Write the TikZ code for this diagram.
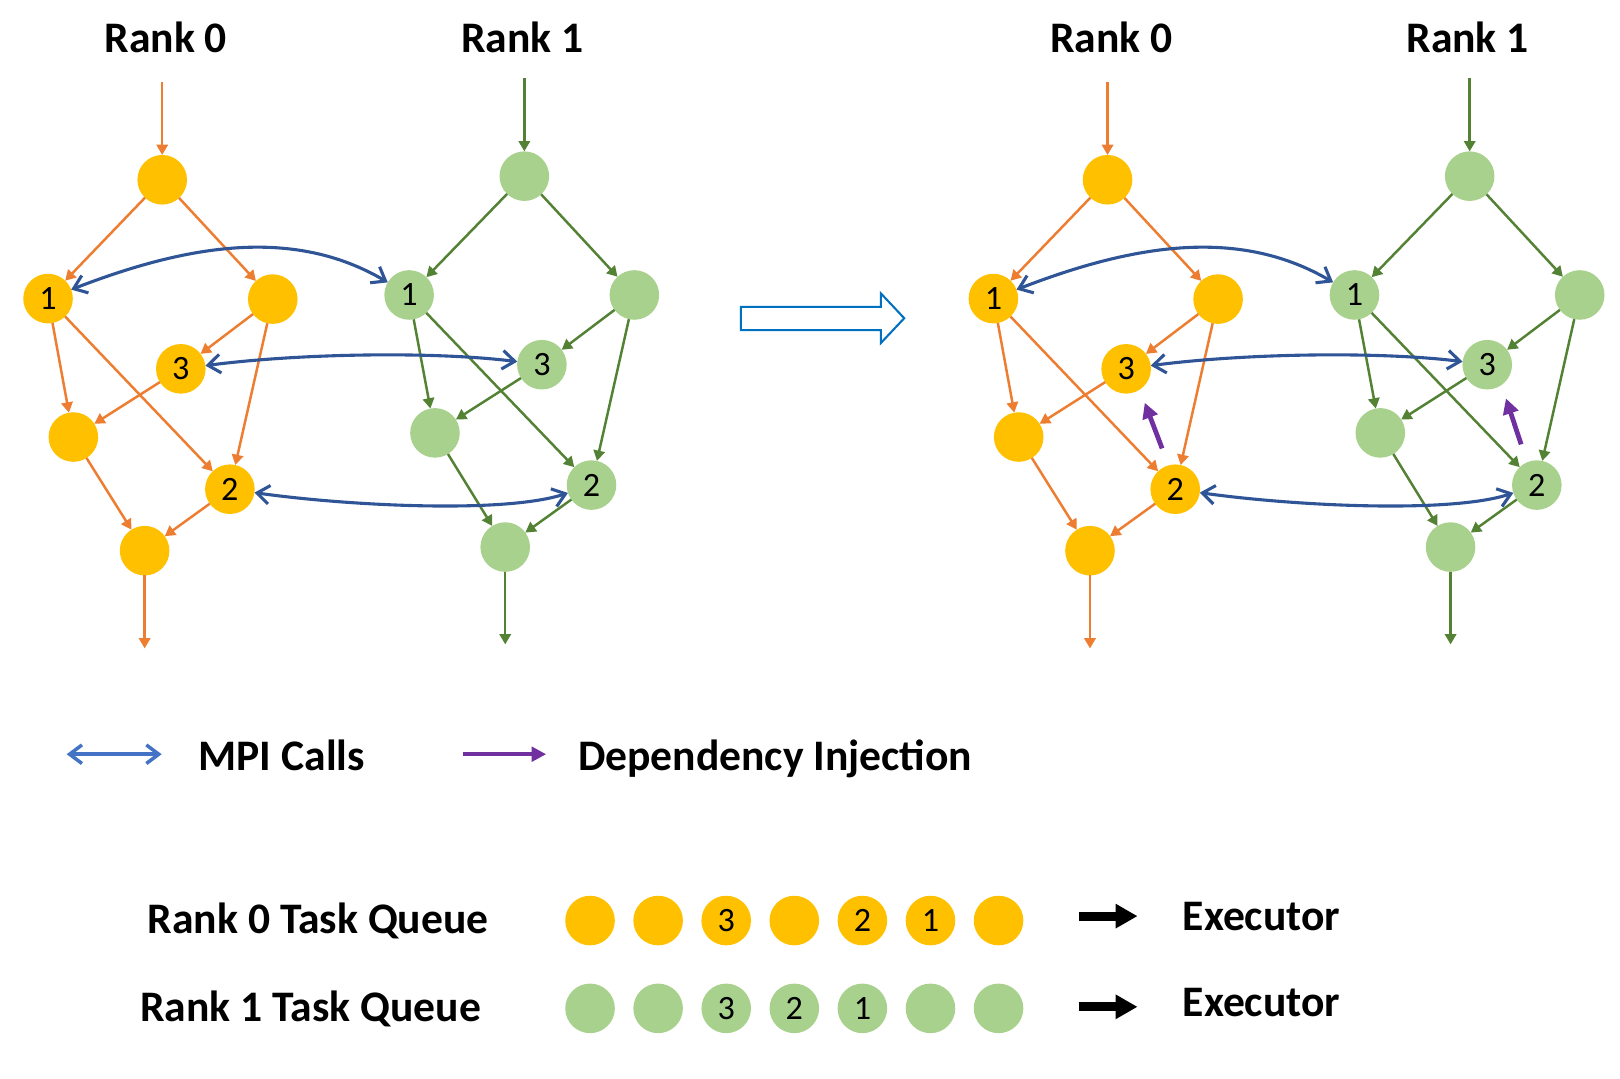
\documentclass[tikz,border=0pt]{standalone}
\usepackage{fontspec}
\setmainfont{Carlito}
\usetikzlibrary{arrows.meta}
\definecolor{yel}{HTML}{FFC000}
\definecolor{grn}{HTML}{A9D18E}
\definecolor{orng}{HTML}{ED7D31}
\definecolor{dgrn}{HTML}{548235}
\definecolor{mpib}{HTML}{2F5597}
\definecolor{legb}{HTML}{4472C4}
\definecolor{purp}{HTML}{7030A0}
\definecolor{bigb}{HTML}{0070C0}
\tikzset{
  ynode/.style={circle, fill=yel, minimum size=24pt, inner sep=0pt, outer sep=0pt, font=\fontsize{16.5}{18}\selectfont},
  gnode/.style={ynode, fill=grn},
  oedge/.style={draw=orng, line width=1.2pt, -{Triangle[length=5pt,width=5.5pt]}},
  gedge/.style={draw=dgrn, line width=1.2pt, -{Triangle[length=5pt,width=5.5pt]}},
  mpi/.style={draw=mpib, line width=1.5pt, {Straight Barb[length=6pt,width=9pt]}-{Straight Barb[length=6pt,width=9pt]}},
  legmpi/.style={draw=legb, line width=1.7pt, {Straight Barb[length=6pt,width=9pt]}-{Straight Barb[length=6pt,width=9pt]}},
  inject/.style={draw=purp, line width=2.3pt, -{Triangle[length=7.5pt,width=7.5pt]}},
  leginject/.style={draw=purp, line width=1.9pt, -{Triangle[length=7pt,width=7pt]}},
  exarrow/.style={draw=black, line width=4.3pt, -{Triangle[length=10.6pt,width=11.2pt]}},
  bigtext/.style={anchor=base, inner sep=0pt, font=\fontsize{21.1}{24}\selectfont\bfseries},
}
\newcommand{\dagpair}[1]{%
  % Rank 0 graph
  \node[ynode] (#1a0) at (157,174) {};
  \node[ynode] (#1a1) at (46.5,289) {1};
  \node[ynode] (#1a2) at (264,289.5) {};
  \node[ynode] (#1a3) at (175,357) {3};
  \node[ynode] (#1a4) at (71,423) {};
  \node[ynode] (#1a5) at (222.5,473.5) {2};
  \node[ynode] (#1a6) at (140,533) {};
  \coordinate (#1ot) at (157,79.7);
  \coordinate (#1ob) at (140,627.6);
  \draw[oedge] (#1ot) -- (#1a0);
  \draw[oedge] (#1a0) -- (#1a1);
  \draw[oedge] (#1a0) -- (#1a2);
  \draw[oedge] (#1a1) -- (#1a4);
  \draw[oedge] (#1a1) -- (#1a5);
  \draw[oedge] (#1a2) -- (#1a3);
  \draw[oedge] (#1a2) -- (#1a5);
  \draw[oedge] (#1a3) -- (#1a4);
  \draw[oedge] (#1a4) -- (#1a6);
  \draw[oedge] (#1a5) -- (#1a6);
  \draw[oedge] (#1a6) -- (#1ob);
  % Rank 1 graph
  \node[gnode] (#1b0) at (507.5,170.5) {};
  \node[gnode] (#1b1) at (396,285.5) {1};
  \node[gnode] (#1b2) at (614,285.5) {};
  \node[gnode] (#1b3) at (524.5,353) {3};
  \node[gnode] (#1b4) at (421,419) {};
  \node[gnode] (#1b5) at (572.5,469.5) {2};
  \node[gnode] (#1b6) at (489,529.5) {};
  \coordinate (#1gt) at (507.5,75.8);
  \coordinate (#1gb) at (489,623.7);
  \draw[gedge] (#1gt) -- (#1b0);
  \draw[gedge] (#1b0) -- (#1b1);
  \draw[gedge] (#1b0) -- (#1b2);
  \draw[gedge] (#1b1) -- (#1b4);
  \draw[gedge] (#1b1) -- (#1b5);
  \draw[gedge] (#1b2) -- (#1b3);
  \draw[gedge] (#1b2) -- (#1b5);
  \draw[gedge] (#1b3) -- (#1b4);
  \draw[gedge] (#1b4) -- (#1b6);
  \draw[gedge] (#1b5) -- (#1b6);
  \draw[gedge] (#1b6) -- (#1gb);
  % MPI calls
  \draw[mpi] (#1a1) .. controls (183,236) and (285,220) .. (#1b1);
  \draw[mpi] (#1a3) .. controls (290,342) and (420,340) .. (#1b3);
  \draw[mpi] (#1a5) .. controls (340,490) and (490,497) .. (#1b5);
  % titles
  \node[bigtext] (#1t0) at (160.5,50.7) {Rank 0};
  \node[bigtext] (#1t1) at (505.5,50.7) {Rank 1};
}
\begin{document}
\begin{tikzpicture}[x=0.5pt,y=-0.5pt]
\useasboundingbox (0,0) rectangle (1568,1043.6);
\dagpair{L}
\begin{scope}[shift={(915,0)}]
\dagpair{R}
\end{scope}
% dependency injection arrows
\coordinate (pj1s) at (1124.8,434);
\coordinate (pj1e) at (1108,389.8);
\coordinate (pj2s) at (1472.3,430.1);
\coordinate (pj2e) at (1457.6,385.6);
\draw[inject] (pj1s) -- (pj1e);
\draw[inject] (pj2s) -- (pj2e);
% big transform arrow
\draw[bigb, line width=1pt, fill=white] (717.1,297) -- (852.6,297) -- (852.6,284) -- (875.2,308) -- (852.6,332) -- (852.6,319.5) -- (717.1,319.5) -- cycle;
% legend
\coordinate (lb1) at (64.5,730);
\coordinate (lb2) at (156.5,730);
\draw[legmpi] (lb1) -- (lb2);
\node[bigtext] (lmpi) at (272.7,745.4) {MPI Calls};
\coordinate (lp1) at (448.5,730);
\coordinate (lp2) at (528.6,730);
\draw[leginject] (lp1) -- (lp2);
\node[bigtext] (ldep) at (750.3,745.4) {Dependency Injection};
% task queues
\node[bigtext] (q0l) at (308,903.5) {Rank 0 Task Queue};
\node[bigtext] (q1l) at (300.8,989) {Rank 1 Task Queue};
\foreach \i/\t in {1/,2/,3/3,4/,5/2,6/1,7/}
  \node[ynode] (qa\i) at ({571.1+65.9*(\i-1)},891) {\t};
\foreach \i/\t in {1/,2/,3/3,4/2,5/1,6/,7/}
  \node[gnode] (qb\i) at ({571.1+65.9*(\i-1)},976) {\t};
\coordinate (ex1s) at (1043.9,886.7);
\coordinate (ex1e) at (1101,886.7);
\coordinate (ex2s) at (1043.9,974.5);
\coordinate (ex2e) at (1101,974.5);
\draw[exarrow] (ex1s) -- (ex1e);
\draw[exarrow] (ex2s) -- (ex2e);
\node[bigtext] (exe1) at (1221,900.3) {Executor};
\node[bigtext] (exe2) at (1221,983.6) {Executor};
\end{tikzpicture}
\end{document}
